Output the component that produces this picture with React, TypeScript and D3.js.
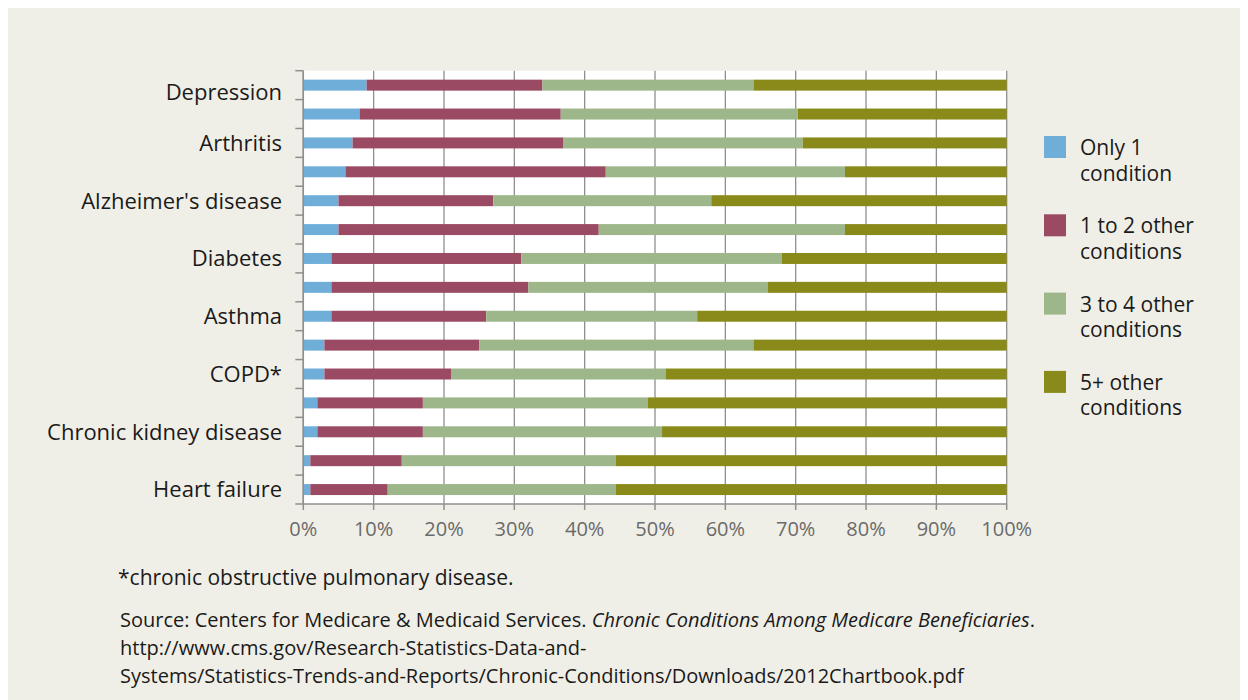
import React from "react";
import * as d3 from "d3";

const categories = [
  "Depression", "", "Arthritis", "", "Alzheimer's disease", "", "Diabetes", "",
  "Asthma", "", "COPD*", "", "Chronic kidney disease", "", "Heart failure",
];
const only1 = [9, 8, 7, 6, 5, 5, 4, 4, 4, 3, 3, 2, 2, 1, 1];
const other1to2 = [25, 28.6, 30, 37, 22, 37, 27, 28, 22, 22, 18, 15, 15, 13, 11];
const other3to4 = [30, 33.7, 34, 34, 31, 35, 37, 34, 30, 39, 30.5, 32, 34, 30.4, 32.4];
const other5plus = [36, 29.7, 29, 23, 42, 23, 32, 34, 44, 36, 48.5, 51, 49, 55.6, 55.6];
const seriesNames = ["Only 1|condition", "1 to 2 other|conditions", "3 to 4 other|conditions", "5+ other|conditions"];
const seriesColors = ["#6faed9", "#9b4a63", "#9eb78a", "#8a8a1b"];
const xTicks = [0, 10, 20, 30, 40, 50, 60, 70, 80, 90, 100];
const footnote = "*chronic obstructive pulmonary disease.";
const sourceLines = [
  ["Source: Centers for Medicare & Medicaid Services. ", "Chronic Conditions Among Medicare Beneficiaries", "."],
  ["http://www.cms.gov/Research-Statistics-Data-and-", "", ""],
  ["Systems/Statistics-Trends-and-Reports/Chronic-Conditions/Downloads/2012Chartbook.pdf", "", ""],
];

const W = 1248, H = 700;
const FONT = "'Open Sans', 'DejaVu Sans', sans-serif";

export default function App() {
  const m = { left: 295.3, right: 998.7, top: 62.7, bottom: 496 };
  const x = d3.scaleLinear().domain([0, 100]).range([m.left, m.right]);
  const idx = categories.map((_, i) => i);
  const y = d3.scaleBand<number>().domain(idx).range([m.top, m.bottom]).paddingInner(0.62).paddingOuter(0.31);
  const rows = idx.map((i) => ({ i, s0: only1[i], s1: other1to2[i], s2: other3to4[i], s3: other5plus[i] }));
  const stack = d3.stack<any>().keys(["s0", "s1", "s2", "s3"])(rows);
  const step = y.step();
  const boundaries = d3.range(categories.length + 1).map((k) => m.top + k * step);
  const axisColor = "#8f8f8f";

  return (
    <svg width={W} height={H} style={{ display: "block" }} fontFamily={FONT}>
      <rect x={0} y={0} width={W} height={H} fill="#f0efe7" />
      <rect x={m.left} y={m.top} width={m.right - m.left} height={m.bottom - m.top} fill="#ffffff" />
      {xTicks.map((t) => (
        <line key={"g" + t} x1={x(t)} x2={x(t)} y1={m.top} y2={m.bottom} stroke={axisColor} strokeWidth={1.3} />
      ))}
      {stack.map((layer, si) => (
        <g key={si} fill={seriesColors[si]}>
          {layer.map((d: any, j: number) => (
            <rect key={j} x={x(d[0])} y={y(j)} width={Math.max(0, x(d[1]) - x(d[0]))} height={y.bandwidth()} />
          ))}
        </g>
      ))}
      <line x1={m.left} x2={m.left} y1={m.top} y2={m.bottom} stroke={axisColor} strokeWidth={1.5} />
      {boundaries.map((b, k) => (
        <line key={"lt" + k} x1={m.left - 8} x2={m.left} y1={b} y2={b} stroke={axisColor} strokeWidth={1.5} />
      ))}
      <line x1={m.left} x2={m.right} y1={m.bottom} y2={m.bottom} stroke={axisColor} strokeWidth={1.5} />
      {xTicks.map((t) => (
        <g key={"xt" + t}>
          <line x1={x(t)} x2={x(t)} y1={m.bottom} y2={m.bottom + 6} stroke={axisColor} strokeWidth={1.5} />
          <text x={x(t)} y={528} textAnchor="middle" fontSize={20} fill="#6a6a6a">{t + "%"}</text>
        </g>
      ))}
      {categories.map((c, i) =>
        c ? (
          <text key={"c" + i} x={274} y={(y(i) as number) + y.bandwidth() / 2 + (i === 0 ? 7 : 0)} dy="0.36em" textAnchor="end" fontSize={22} fill="#1a1a1a">
            {c}
          </text>
        ) : null
      )}
      {seriesNames.map((s, i) => {
        const top = 128 + i * 78.3;
        const [l1, l2] = s.split("|");
        return (
          <g key={"lg" + i}>
            <rect x={1036} y={top} width={22} height={22} fill={seriesColors[i]} />
            <text x={1072} y={top + 19} fontSize={21} fill="#1a1a1a">{l1}</text>
            <text x={1072} y={top + 44.5} fontSize={21} fill="#1a1a1a">{l2}</text>
          </g>
        );
      })}
      <text x={110} y={577} fontSize={21} fill="#1a1a1a">{footnote}</text>
      {sourceLines.map((ln, i) => (
        <text key={"s" + i} x={112} y={619.3 + i * 27.7} fontSize={20} fill="#1a1a1a">
          {ln[0]}
          {ln[1] ? <tspan fontStyle="italic">{ln[1]}</tspan> : null}
          {ln[2]}
        </text>
      ))}
    </svg>
  );
}
